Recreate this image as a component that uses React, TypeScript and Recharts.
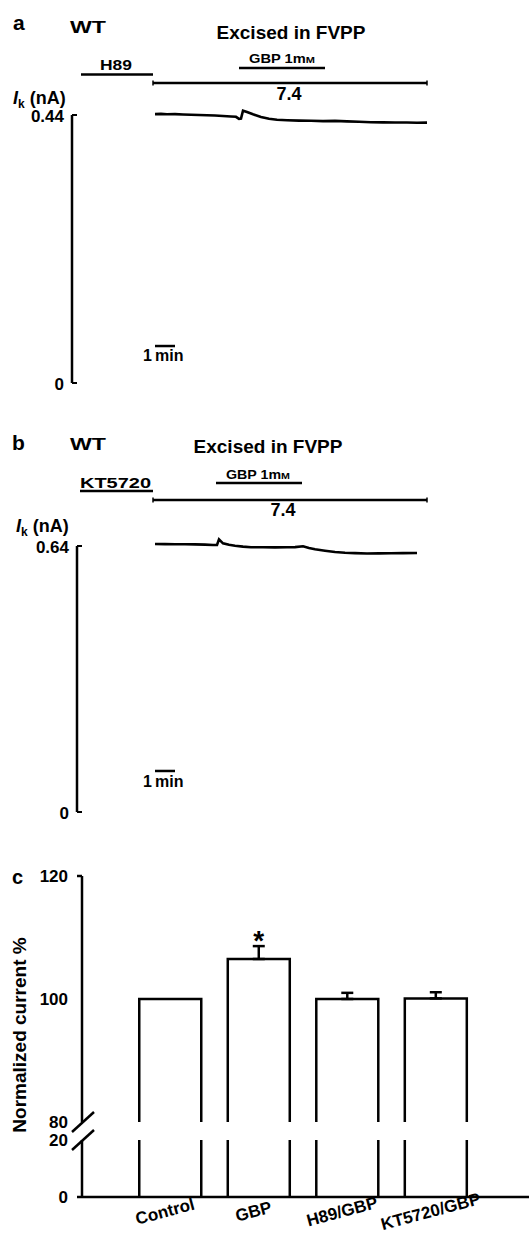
import { Bar, BarChart, ErrorBar, LabelList, Line, LineChart, ReferenceLine, XAxis, YAxis } from "recharts";

const FONT = '"Liberation Sans", Arial, Helvetica, sans-serif';

// a: WT patch, H89 pre-treatment then GBP (time in min, current in nA)
const timeA = [0, 0.3, 0.6, 1.0, 1.4, 1.8, 2.2, 2.6, 3.0, 3.4, 3.8, 4.05, 4.2, 4.3, 4.4, 4.6, 4.9, 5.3, 5.7, 6.1, 6.6, 7.2, 7.8, 8.4, 9.0, 9.6, 10.2, 10.8, 11.4, 12.0, 12.6, 13.1, 13.6];
const currentA = [0.4415, 0.4418, 0.4412, 0.4414, 0.4408, 0.4404, 0.4399, 0.4395, 0.4391, 0.4383, 0.4376, 0.437, 0.4336, 0.4342, 0.447, 0.4448, 0.4412, 0.4368, 0.4338, 0.4322, 0.4314, 0.4308, 0.4305, 0.43, 0.4304, 0.4296, 0.429, 0.4282, 0.4279, 0.4276, 0.4278, 0.4274, 0.4275];

// b: WT patch, KT5720 pre-treatment then GBP
const timeB = [0, 0.5, 1.0, 1.5, 2.0, 2.5, 2.9, 3.1, 3.2, 3.4, 3.7, 4.0, 4.4, 4.8, 5.4, 6.0, 6.6, 7.0, 7.4, 7.7, 8.0, 8.5, 9.0, 9.5, 10.0, 10.6, 11.2, 11.8, 12.4, 13.1];
const currentB = [0.6448, 0.6446, 0.6444, 0.6443, 0.644, 0.6434, 0.6426, 0.6424, 0.6561, 0.6465, 0.6428, 0.6405, 0.6386, 0.6372, 0.6369, 0.6368, 0.637, 0.6374, 0.6394, 0.6352, 0.632, 0.6286, 0.6255, 0.6238, 0.6228, 0.622, 0.6224, 0.6226, 0.6229, 0.6232];

// drug applications (min)
const drugA = [
  { from: -3.7, to: -0.1, level: 0.5065 }, // H89
  { from: 4.2, to: 8.5, level: 0.5172 }, // GBP 1mM
];
const drugB = [
  { from: -3.75, to: -0.1, level: 0.7724 }, // KT5720
  { from: 3.05, to: 7.35, level: 0.7916 }, // GBP 1mM
];

// c: summary
const conditions = ["Control", "GBP", "H89/GBP", "KT5720/GBP"];
const meanCurrent = [100, 106.5, 100, 100.1];
const semCurrent = [0, 2.1, 1.0, 1.0];
const significance = ["", "*", "", ""];
const yTicksC = [0, 20, 80, 100, 120];

// broken y axis: 0-20 squeezed, 20-80 cut out
const LOW_TOP = 20;
const HIGH_BOTTOM = 80;
const LOW_SQUEEZE = 0.4634;
const BREAK_GAP = 2.93;
const brk = (v: number) =>
  v <= LOW_TOP ? v * LOW_SQUEEZE : LOW_TOP * LOW_SQUEEZE + BREAK_GAP + (v - HIGH_BOTTOM);

const barData = conditions.map((name, i) => ({
  pos: i + 1,
  name,
  shown: brk(meanCurrent[i]),
  err: semCurrent[i] > 0 ? [0, semCurrent[i]] : null,
  sig: significance[i],
}));

function TraceTick({ y, payload, axisX }: any) {
  return (
    <g>
      <line x1={axisX} x2={axisX + 5} y1={y} y2={y} stroke="#000" strokeWidth={2} />
      <text x={axisX - 8} y={y + 7} textAnchor="end" fontSize={17} fontWeight="bold" fontFamily={FONT} fill="#000">
        {payload.value}
      </text>
    </g>
  );
}

type Seg = { from: number; to: number; level: number };
type TraceProps = {
  time: number[];
  current: number[];
  yMax: number;
  yTop: number;
  tRange: [number, number];
  height: number;
  margin: { top: number; right: number; bottom: number; left: number };
  drugs: Seg[];
  ph: Seg;
  phTick: number;
  scaleLevel: number;
};

function TracePanel(p: TraceProps) {
  const data = p.time.map((t, i) => ({ t, ik: p.current[i] }));
  const axisX = p.margin.left + 60;
  const seg = (x1: number, y1: number, x2: number, y2: number, w: number, key: string) => (
    <ReferenceLine
      key={key}
      segment={[{ x: x1, y: y1 }, { x: x2, y: y2 }]}
      stroke="#000"
      strokeWidth={w}
      ifOverflow="visible"
    />
  );
  return (
    <LineChart width={529} height={p.height} data={data} margin={p.margin}>
      <XAxis type="number" dataKey="t" domain={p.tRange} hide allowDataOverflow />
      <YAxis
        type="number"
        domain={[0, p.yTop]}
        ticks={[0, p.yMax]}
        interval={0}
        width={60}
        axisLine={false}
        tickLine={false}
        tick={(t: any) => <TraceTick {...t} axisX={axisX} />}
      />
      {seg(p.tRange[0], 0, p.tRange[0], p.yMax, 2.5, "axis")}
      {p.drugs.map((d, i) => seg(d.from, d.level, d.to, d.level, 2.5, `drug${i}`))}
      {seg(p.ph.from, p.ph.level, p.ph.to, p.ph.level, 2.5, "ph")}
      {seg(p.ph.from, p.ph.level - p.phTick, p.ph.from, p.ph.level + p.phTick, 1.5, "phL")}
      {seg(p.ph.to, p.ph.level - p.phTick, p.ph.to, p.ph.level + p.phTick, 1.5, "phR")}
      {seg(0, p.scaleLevel, 1, p.scaleLevel, 2.5, "scale")}
      <Line type="linear" dataKey="ik" stroke="#000" strokeWidth={2.6} dot={false} isAnimationActive={false} />
    </LineChart>
  );
}

function BrokenBar(props: any) {
  const { x, y, width, height, payload } = props;
  if (!height) return null;
  const bottom = y + height;
  const k = height / payload.shown;
  const lowY = bottom - brk(LOW_TOP) * k;
  const highY = bottom - brk(HIGH_BOTTOM) * k;
  const d = `M${x},${bottom}V${lowY}M${x},${highY}V${y}H${x + width}V${highY}M${x + width},${lowY}V${bottom}`;
  return <path d={d} fill="none" stroke="#000" strokeWidth={2.5} />;
}

function BreakTick({ y, payload }: any) {
  const axisX = 82;
  const idx = yTicksC.findIndex((v) => Math.abs(brk(v) - payload.value) < 0.01);
  const v = yTicksC[idx];
  return (
    <g>
      {(v === 0 || v === 120) && <line x1={axisX - 5} x2={axisX} y1={y} y2={y} stroke="#000" strokeWidth={2.5} />}
      {(v === LOW_TOP || v === HIGH_BOTTOM) && (
        <line x1={axisX - 10} y1={y + 10} x2={axisX + 12} y2={y - 10} stroke="#000" strokeWidth={2.5} />
      )}
      <text x={68} y={y + 6} textAnchor="end" fontSize={17} fontWeight="bold" fontFamily={FONT} fill="#000">
        {v}
      </text>
    </g>
  );
}

function ConditionTick({ x, y, payload }: any) {
  const name = conditions[payload.value - 1];
  const ty = y + 12;
  return (
    <text
      x={x - 4}
      y={ty}
      transform={`rotate(-15, ${x - 4}, ${ty})`}
      textAnchor="middle"
      fontSize={17}
      fontWeight="bold"
      fontFamily={FONT}
      fill="#000"
    >
      {name}
    </text>
  );
}

function StarLabel(props: any) {
  const vb = props.viewBox ?? props;
  const d = barData[props.index ?? 1];
  if (!props.value || !d.err) return null;
  const k = vb.height / d.shown;
  const top = vb.y - d.err[1] * k;
  return (
    <text x={vb.x + vb.width / 2} y={top + 4} textAnchor="middle" fontSize={28} fontWeight="bold" fontFamily={FONT} fill="#000">
      {props.value}
    </text>
  );
}

function SummaryPanel() {
  return (
    <BarChart width={529} height={387} data={barData} margin={{ top: 26, right: 0, bottom: 0, left: 22 }}>
      <XAxis
        type="number"
        dataKey="pos"
        domain={[0, 5.05]}
        ticks={[1, 2, 3, 4]}
        height={40}
        interval={0}
        tickLine={false}
        axisLine={{ stroke: "#000", strokeWidth: 2.5 }}
        tick={(t: any) => <ConditionTick {...t} />}
      />
      <YAxis
        type="number"
        domain={[0, brk(120)]}
        ticks={yTicksC.map(brk)}
        interval={0}
        width={60}
        axisLine={false}
        tickLine={false}
        tick={(t: any) => <BreakTick {...t} />}
      />
      <ReferenceLine segment={[{ x: 0, y: 0 }, { x: 0, y: brk(LOW_TOP) }]} stroke="#000" strokeWidth={2.5} ifOverflow="visible" />
      <ReferenceLine segment={[{ x: 0, y: brk(HIGH_BOTTOM) }, { x: 0, y: brk(120) }]} stroke="#000" strokeWidth={2.5} ifOverflow="visible" />
      <Bar dataKey="shown" barSize={62} shape={<BrokenBar />} isAnimationActive={false}>
        <ErrorBar dataKey="err" width={6} stroke="#000" strokeWidth={2.5} direction="y" />
        <LabelList dataKey="sig" content={(p: any) => <StarLabel {...p} />} />
      </Bar>
    </BarChart>
  );
}

const txt = { fontFamily: FONT, fontWeight: "bold" as const, fill: "#000" };

export default function App() {
  return (
    <div style={{ position: "relative", width: 529, height: 1237, background: "#fff", overflow: "hidden", fontFamily: FONT }}>
      <style>{`body{margin:0}`}</style>
      <div style={{ position: "absolute", left: 0, top: 0 }}>
        <TracePanel
          time={timeA}
          current={currentA}
          yMax={0.44}
          yTop={0.5303}
          tRange={[-4.15, 17.7]}
          height={400}
          margin={{ top: 60, right: 20, bottom: 17, left: 12 }}
          drugs={drugA}
          ph={{ from: -0.1, to: 13.6, level: 0.4925 }}
          phTick={0.0041}
          scaleLevel={0.0607}
        />
      </div>
      <div style={{ position: "absolute", left: 0, top: 420 }}>
        <TracePanel
          time={timeB}
          current={currentB}
          yMax={0.64}
          yTop={0.8229}
          tRange={[-3.9, 17.7]}
          height={412}
          margin={{ top: 50, right: 20, bottom: 20, left: 17 }}
          drugs={drugB}
          ph={{ from: -0.1, to: 13.6, level: 0.7507 }}
          phTick={0.006}
          scaleLevel={0.0987}
        />
      </div>
      <div style={{ position: "absolute", left: 0, top: 850 }}>
        <SummaryPanel />
      </div>
      <svg width={529} height={1237} style={{ position: "absolute", left: 0, top: 0, pointerEvents: "none" }}>
        {/* panel a */}
        <text x={13} y={30} fontSize={21} {...txt}>a</text>
        <text x={70} y={33} fontSize={17} textLength={36} lengthAdjust="spacingAndGlyphs" {...txt}>WT</text>
        <text x={291} y={39} fontSize={19} textAnchor="middle" {...txt}>Excised in FVPP</text>
        <text x={116} y={70} fontSize={15} textAnchor="middle" textLength={32} lengthAdjust="spacingAndGlyphs" {...txt}>H89</text>
        <text x={282} y={63} fontSize={12} textAnchor="middle" textLength={66} lengthAdjust="spacingAndGlyphs" {...txt}>
          GBP 1m<tspan fontSize={9}>M</tspan>
        </text>
        <text x={289} y={100} fontSize={18} textAnchor="middle" {...txt}>7.4</text>
        <text x={13} y={104} fontSize={18} {...txt}>
          <tspan fontStyle="italic">I</tspan>
          <tspan fontSize={12} dy={4}>k</tspan>
          <tspan dy={-4}> (nA)</tspan>
        </text>
        <text x={143} y={361} fontSize={16} {...txt}>1</text>
        <text x={155} y={361} fontSize={16} {...txt}>min</text>

        {/* panel b */}
        <text x={12} y={450} fontSize={21} {...txt}>b</text>
        <text x={70} y={450} fontSize={17} textLength={36} lengthAdjust="spacingAndGlyphs" {...txt}>WT</text>
        <text x={268} y={453} fontSize={19} textAnchor="middle" {...txt}>Excised in FVPP</text>
        <text x={80} y={488} fontSize={15} textLength={71} lengthAdjust="spacingAndGlyphs" {...txt}>KT5720</text>
        <text x={258} y={479} fontSize={12} textAnchor="middle" textLength={64} lengthAdjust="spacingAndGlyphs" {...txt}>
          GBP 1m<tspan fontSize={9}>M</tspan>
        </text>
        <text x={283} y={516} fontSize={18} textAnchor="middle" {...txt}>7.4</text>
        <text x={16} y={532} fontSize={18} {...txt}>
          <tspan fontStyle="italic">I</tspan>
          <tspan fontSize={12} dy={4}>k</tspan>
          <tspan dy={-4}> (nA)</tspan>
        </text>
        <text x={143} y={787} fontSize={16} {...txt}>1</text>
        <text x={155} y={787} fontSize={16} {...txt}>min</text>

        {/* panel c */}
        <text x={12} y={884} fontSize={20} {...txt}>c</text>
        <text x={26} y={1035} fontSize={19} textAnchor="middle" transform="rotate(-90, 26, 1035)" {...txt}>
          Normalized current %
        </text>
      </svg>
    </div>
  );
}
